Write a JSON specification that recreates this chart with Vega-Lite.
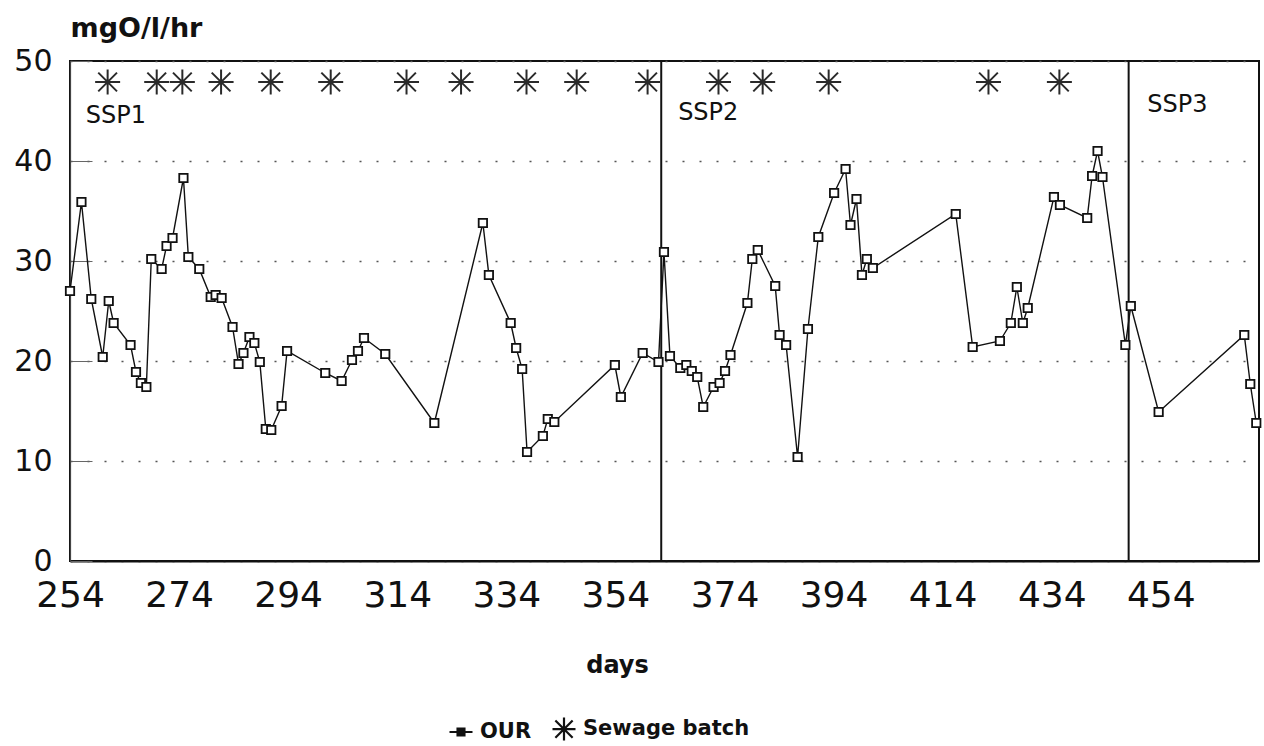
{
  "$schema": "https://vega.github.io/schema/vega-lite/v6.json",
  "width": 1189,
  "height": 500,
  "autosize": "none",
  "padding": {"left": 70, "top": 61, "right": 5, "bottom": 185},
  "background": "white",
  "config": {
    "view": {"stroke": "#111", "strokeWidth": 2},
    "font": "DejaVu Sans"
  },
  "datasets": {
    "our": [
      {"day": 254.0, "mg": 27.0}, {"day": 256.1, "mg": 35.9}, {"day": 257.9, "mg": 26.2}, {"day": 260.0, "mg": 20.4},
      {"day": 261.1, "mg": 26.0}, {"day": 262.0, "mg": 23.8}, {"day": 265.1, "mg": 21.6}, {"day": 266.1, "mg": 18.9},
      {"day": 267.0, "mg": 17.8}, {"day": 268.0, "mg": 17.4}, {"day": 268.9, "mg": 30.2}, {"day": 270.8, "mg": 29.2},
      {"day": 271.7, "mg": 31.5}, {"day": 272.8, "mg": 32.3}, {"day": 274.8, "mg": 38.3}, {"day": 275.7, "mg": 30.4},
      {"day": 277.7, "mg": 29.2}, {"day": 279.8, "mg": 26.4}, {"day": 280.7, "mg": 26.6}, {"day": 281.8, "mg": 26.3},
      {"day": 283.8, "mg": 23.4}, {"day": 284.9, "mg": 19.7}, {"day": 285.8, "mg": 20.8}, {"day": 286.9, "mg": 22.4},
      {"day": 287.8, "mg": 21.8}, {"day": 288.8, "mg": 19.9}, {"day": 289.9, "mg": 13.2}, {"day": 290.9, "mg": 13.1},
      {"day": 292.8, "mg": 15.5}, {"day": 293.8, "mg": 21.0}, {"day": 300.8, "mg": 18.8}, {"day": 303.8, "mg": 18.0},
      {"day": 305.7, "mg": 20.1}, {"day": 306.8, "mg": 21.0}, {"day": 307.9, "mg": 22.3}, {"day": 311.8, "mg": 20.7},
      {"day": 320.8, "mg": 13.8}, {"day": 329.7, "mg": 33.8}, {"day": 330.8, "mg": 28.6}, {"day": 334.8, "mg": 23.8},
      {"day": 335.8, "mg": 21.3}, {"day": 336.9, "mg": 19.2}, {"day": 337.8, "mg": 10.9}, {"day": 340.7, "mg": 12.5},
      {"day": 341.6, "mg": 14.2}, {"day": 342.8, "mg": 13.9}, {"day": 353.9, "mg": 19.6}, {"day": 355.0, "mg": 16.4},
      {"day": 359.0, "mg": 20.8}, {"day": 361.9, "mg": 19.9}, {"day": 362.9, "mg": 30.9}, {"day": 364.0, "mg": 20.5},
      {"day": 365.9, "mg": 19.3}, {"day": 367.0, "mg": 19.6}, {"day": 368.0, "mg": 19.0}, {"day": 369.0, "mg": 18.4},
      {"day": 370.1, "mg": 15.4}, {"day": 372.0, "mg": 17.4}, {"day": 373.1, "mg": 17.8}, {"day": 374.1, "mg": 19.0},
      {"day": 375.1, "mg": 20.6}, {"day": 378.2, "mg": 25.8}, {"day": 379.1, "mg": 30.2}, {"day": 380.1, "mg": 31.1},
      {"day": 383.3, "mg": 27.5}, {"day": 384.1, "mg": 22.6}, {"day": 385.3, "mg": 21.6}, {"day": 387.4, "mg": 10.4},
      {"day": 389.3, "mg": 23.2}, {"day": 391.2, "mg": 32.4}, {"day": 394.1, "mg": 36.8}, {"day": 396.2, "mg": 39.2},
      {"day": 397.1, "mg": 33.6}, {"day": 398.2, "mg": 36.2}, {"day": 399.2, "mg": 28.6}, {"day": 400.1, "mg": 30.2},
      {"day": 401.2, "mg": 29.3}, {"day": 416.4, "mg": 34.7}, {"day": 419.5, "mg": 21.4}, {"day": 424.5, "mg": 22.0},
      {"day": 426.5, "mg": 23.8}, {"day": 427.6, "mg": 27.4}, {"day": 428.7, "mg": 23.8}, {"day": 429.6, "mg": 25.3},
      {"day": 434.4, "mg": 36.4}, {"day": 435.5, "mg": 35.6}, {"day": 440.5, "mg": 34.3}, {"day": 441.4, "mg": 38.5},
      {"day": 442.4, "mg": 41.0}, {"day": 443.3, "mg": 38.4}, {"day": 447.5, "mg": 21.6}, {"day": 448.5, "mg": 25.5},
      {"day": 453.6, "mg": 14.9}, {"day": 469.3, "mg": 22.6}, {"day": 470.4, "mg": 17.7}, {"day": 471.5, "mg": 13.8}
    ],
    "batch": [
      {"day": 260.9, "mg": 47.9, "series": "Sewage batch"}, {"day": 269.9, "mg": 47.9, "series": "Sewage batch"},
      {"day": 274.6, "mg": 47.9, "series": "Sewage batch"}, {"day": 281.7, "mg": 47.9, "series": "Sewage batch"},
      {"day": 290.8, "mg": 47.9, "series": "Sewage batch"}, {"day": 301.8, "mg": 47.9, "series": "Sewage batch"},
      {"day": 315.7, "mg": 47.9, "series": "Sewage batch"}, {"day": 325.7, "mg": 47.9, "series": "Sewage batch"},
      {"day": 337.7, "mg": 47.9, "series": "Sewage batch"}, {"day": 346.9, "mg": 47.9, "series": "Sewage batch"},
      {"day": 359.9, "mg": 47.9, "series": "Sewage batch"}, {"day": 372.9, "mg": 47.9, "series": "Sewage batch"},
      {"day": 381.0, "mg": 47.9, "series": "Sewage batch"}, {"day": 393.1, "mg": 47.9, "series": "Sewage batch"},
      {"day": 422.4, "mg": 47.9, "series": "Sewage batch"}, {"day": 435.4, "mg": 47.9, "series": "Sewage batch"}
    ],
    "phases": [
      {"day": 362.4, "label": "SSP2"},
      {"day": 448.1, "label": "SSP3"}
    ],
    "phaseLabels": [
      {"day": 256.9, "mg": 44.5, "label": "SSP1"},
      {"day": 365.5, "mg": 44.8, "label": "SSP2"},
      {"day": 451.5, "mg": 45.6, "label": "SSP3"}
    ]
  },
  "layer": [
    {
      "data": {"name": "phases"},
      "mark": {"type": "rule", "color": "#111", "strokeWidth": 2},
      "encoding": {
        "x": {"field": "day", "type": "quantitative"}
      }
    },
    {
      "data": {"name": "our"},
      "mark": {"type": "line", "color": "#111", "strokeWidth": 1.4},
      "encoding": {
        "x": {
          "field": "day",
          "type": "quantitative",
          "scale": {"domain": [254, 472], "nice": false, "zero": false},
          "axis": {
            "title": "days",
            "values": [254, 274, 294, 314, 334, 354, 374, 394, 414, 434, 454],
            "grid": false,
            "ticks": false,
            "domainColor": "#111",
            "domainWidth": 2,
            "labelFont": "DejaVu Sans",
            "labelFontSize": 36,
            "labelColor": "#111",
            "labelPadding": 17,
            "labelFlush": false,
            "labelOverlap": false,
            "titleFont": "DejaVu Sans",
            "titleFontSize": 24,
            "titleFontWeight": "bold",
            "titleColor": "#111",
            "titleX": 547,
            "titleY": 111,
            "titleAlign": "center",
            "titleBaseline": "alphabetic"
          }
        },
        "y": {
          "field": "mg",
          "type": "quantitative",
          "scale": {"domain": [0, 50], "nice": false},
          "axis": {
            "title": "mgO/l/hr",
            "values": [0, 10, 20, 30, 40, 50],
            "grid": true,
            "gridColor": "#555",
            "gridDash": [2, 15],
            "gridWidth": 1.5,
            "ticks": true,
            "tickSize": -22,
            "tickColor": "#666",
            "tickWidth": 1,
            "domainColor": "#444",
            "domainWidth": 1.2,
            "labelFont": "DejaVu Sans",
            "labelFontSize": 30,
            "labelColor": "#111",
            "labelPadding": 40,
            "labelFlush": false,
            "labelOverlap": false,
            "titleFont": "DejaVu Sans",
            "titleFontSize": 27,
            "titleFontWeight": "bold",
            "titleColor": "#111",
            "titleAngle": 0,
            "titleAlign": "left",
            "titleBaseline": "alphabetic",
            "titleX": 0,
            "titleY": -25
          }
        }
      }
    },
    {
      "data": {"name": "our"},
      "mark": {"type": "point", "shape": "square", "filled": false, "fill": "white", "fillOpacity": 1, "stroke": "#111", "strokeWidth": 1.8, "size": 70, "opacity": 1},
      "encoding": {
        "x": {"field": "day", "type": "quantitative"},
        "y": {"field": "mg", "type": "quantitative"}
      }
    },
    {
      "data": {"name": "batch"},
      "mark": {"type": "point", "filled": false, "stroke": "#2a2a2a", "strokeWidth": 2, "size": 625, "opacity": 1},
      "encoding": {
        "x": {"field": "day", "type": "quantitative"},
        "y": {"field": "mg", "type": "quantitative"},
        "shape": {
          "field": "series",
          "type": "nominal",
          "scale": {
            "domain": ["OUR", "Sewage batch"],
            "range": [
              "M-1,0H1M-0.3,-0.3H0.3V0.3H-0.3ZM-0.3,-0.15H0.3M-0.3,0.15H0.3",
              "M-1,0H1M0,-1V1M-0.75,-0.75L0.75,0.75M-0.75,0.75L0.75,-0.75"
            ]
          },
          "legend": {
            "title": null,
            "orient": "none",
            "legendX": 378,
            "legendY": 655,
            "direction": "horizontal",
            "labelFont": "DejaVu Sans",
            "labelFontSize": 21,
            "labelFontWeight": "bold",
            "labelColor": "#111",
            "labelLimit": 400,
            "labelOffset": 6,
            "columnPadding": 16,
            "symbolSize": 529,
            "symbolStrokeWidth": 2.2,
            "symbolStrokeColor": "#111",
            "symbolFillColor": "#111"
          }
        }
      }
    },
    {
      "data": {"name": "phaseLabels"},
      "mark": {"type": "text", "align": "left", "baseline": "middle", "font": "DejaVu Sans", "fontSize": 24, "color": "#111"},
      "encoding": {
        "x": {"field": "day", "type": "quantitative"},
        "y": {"field": "mg", "type": "quantitative"},
        "text": {"field": "label"}
      }
    }
  ]
}
